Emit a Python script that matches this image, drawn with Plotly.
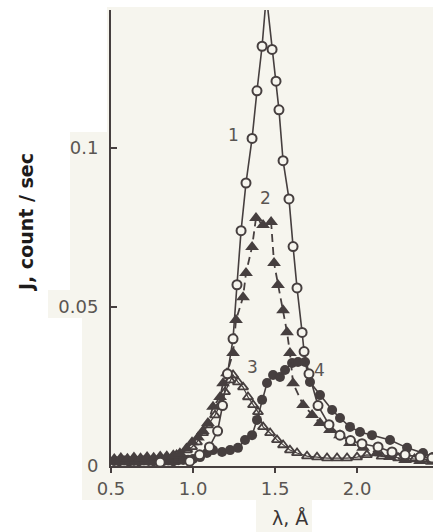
import plotly.graph_objects as go

# Curve 1: open circles, solid line
wl_1 = [0.80, 0.98, 1.04, 1.10, 1.15, 1.18, 1.21, 1.244, 1.268, 1.293, 1.323, 1.36, 1.39, 1.421,
        1.447, 1.482, 1.506, 1.524, 1.549, 1.585, 1.61, 1.634, 1.665, 1.677, 1.707, 1.762, 1.829,
        1.896, 1.96, 2.03, 2.128, 2.213, 2.293, 2.384, 2.457]
j_1 = [0.0012, 0.0015, 0.0035, 0.006, 0.011, 0.019, 0.029, 0.040, 0.057, 0.074, 0.089, 0.103, 0.118,
       0.132, 0.148, 0.131, 0.121, 0.112, 0.096, 0.084, 0.069, 0.056, 0.042, 0.036, 0.029, 0.019,
       0.013, 0.0097, 0.008, 0.007, 0.006, 0.0044, 0.0035, 0.0028, 0.0025]

# Curve 2: filled triangles, dashed line
wl_2 = [0.52, 0.56, 0.60, 0.64, 0.68, 0.72, 0.76, 0.80, 0.84, 0.88, 0.92, 0.96, 0.994, 1.03, 1.06,
        1.091, 1.122, 1.165, 1.183, 1.207, 1.244, 1.262, 1.305, 1.323, 1.36, 1.384, 1.427, 1.476,
        1.494, 1.518, 1.549, 1.573, 1.591, 1.61, 1.671, 1.726, 1.774, 1.835, 1.896, 1.957, 2.037,
        2.122, 2.201, 2.293, 2.384, 2.457]
j_2 = [0.0022, 0.0025, 0.0023, 0.0027, 0.0024, 0.0028, 0.0026, 0.0030, 0.0031, 0.0034, 0.0040,
       0.0055, 0.0075, 0.009, 0.011, 0.0135, 0.0186, 0.0217, 0.026, 0.0292, 0.0355, 0.0459, 0.0531,
       0.0607, 0.0689, 0.078, 0.0758, 0.0767, 0.0638, 0.0569, 0.049, 0.0421, 0.0355, 0.026, 0.0192,
       0.016, 0.0135, 0.0113, 0.0097, 0.0072, 0.0057, 0.0041, 0.0028, 0.0019, 0.0016, 0.0013]

# Curve 3: open triangles
wl_3 = [0.90, 0.963, 0.994, 1.024, 1.061, 1.091, 1.134, 1.165, 1.195, 1.226, 1.244, 1.274, 1.305,
        1.335, 1.366, 1.396, 1.427, 1.47, 1.512, 1.549, 1.591, 1.634, 1.695, 1.756, 1.817, 1.878,
        1.939, 2.0, 2.06, 2.15, 2.25, 2.35, 2.45]
j_3 = [0.0035, 0.005, 0.006, 0.0075, 0.0104, 0.0129, 0.016, 0.0192, 0.0233, 0.027, 0.0286, 0.0264,
       0.0248, 0.0217, 0.0192, 0.017, 0.0123, 0.0104, 0.0082, 0.0066, 0.005, 0.0041, 0.0031, 0.0028,
       0.0025, 0.0025, 0.0025, 0.0028, 0.0035, 0.003, 0.0025, 0.0022, 0.002]

# Curve 4: filled circles, solid line
wl_4 = [0.52, 0.55, 0.58, 0.61, 0.64, 0.67, 0.70, 0.73, 0.76, 0.79, 0.82, 0.85, 0.88, 0.91, 0.94,
        0.97, 1.0, 1.043, 1.085, 1.122, 1.177, 1.226, 1.274, 1.317, 1.36, 1.39, 1.421, 1.451, 1.488,
        1.53, 1.561, 1.604, 1.64, 1.683, 1.713, 1.774, 1.848, 1.896, 1.957, 2.018, 2.091, 2.201,
        2.305, 2.402, 2.463]
j_4 = [0.0016, 0.0015, 0.0017, 0.0014, 0.0016, 0.0015, 0.0017, 0.0016, 0.0015, 0.0018, 0.0016,
       0.0017, 0.0015, 0.0018, 0.0019, 0.0020, 0.0022, 0.0028, 0.0041, 0.005, 0.0044, 0.005, 0.0057,
       0.0082, 0.0097, 0.0145, 0.0208, 0.0261, 0.0286, 0.028, 0.0302, 0.0324, 0.0327, 0.0327,
       0.0264, 0.0223, 0.0176, 0.0151, 0.0123, 0.0107, 0.0097, 0.0082, 0.0057, 0.0041, 0.0028]

x_ticks = [0.5, 1.0, 1.5, 2.0]
x_tick_text = ["0.5", "1.0", "1.5", "2.0"]
y_ticks = [0, 0.05, 0.1]
y_tick_text = ["0", "0.05", "0.1"]

curve_labels = ["1", "2", "3", "4"]
label_x = [1.244, 1.439, 1.36, 1.774]
label_y = [0.104, 0.0843, 0.0311, 0.0302]

INK = "#463f3f"
PAPER = "#f6f5ee"
TEXT = "#5a5552"

fig = go.Figure()

fig.add_trace(go.Scatter(
    x=wl_4, y=j_4, mode="lines+markers",
    line=dict(color=INK, width=1.6),
    marker=dict(symbol="circle", size=10, color=INK, line=dict(width=0)),
))
fig.add_trace(go.Scatter(
    x=wl_3, y=j_3, mode="lines+markers",
    line=dict(color=INK, width=1.2),
    marker=dict(symbol="triangle-up-open", size=9, color=INK, line=dict(width=1.8)),
))
fig.add_trace(go.Scatter(
    x=wl_2, y=j_2, mode="lines+markers",
    line=dict(color=INK, width=1.8, dash="8px,5px"),
    marker=dict(symbol="triangle-up", size=12, color=INK, line=dict(width=0)),
))
fig.add_trace(go.Scatter(
    x=wl_1, y=j_1, mode="lines+markers",
    line=dict(color=INK, width=1.6),
    marker=dict(symbol="circle", size=9, color=PAPER, line=dict(color=INK, width=2)),
))

for t, lx, ly in zip(curve_labels, label_x, label_y):
    fig.add_annotation(x=lx, y=ly, text=t, showarrow=False,
                       font=dict(family="DejaVu Sans", size=17, color=TEXT))

# axis titles
fig.add_annotation(xref="paper", yref="paper", x=0.556, y=-0.114, text="λ, Å",
                   xanchor="center", yanchor="middle", showarrow=False,
                   font=dict(family="DejaVu Sans", size=19, color="#3a3535"))
fig.add_annotation(xref="paper", yref="paper", x=-0.264, y=0.535, text="<b>J, count / sec</b>",
                   xanchor="center", yanchor="middle", textangle=-90, showarrow=False,
                   font=dict(family="DejaVu Sans", size=19, color="#1e1b1b"))

# page tint behind the chart
W, H = 322.0, 456.0
def px(xp):
    return (xp - 111) / W
def py(yp):
    return (466 - yp) / H
for x0, y0, x1, y1 in [(107, 7, 433, 500), (70, 132, 107, 290), (48, 290, 107, 318),
                       (82, 318, 107, 500), (256, 500, 312, 532)]:
    fig.add_shape(type="rect", xref="paper", yref="paper", layer="below",
                  x0=px(x0), x1=px(x1), y0=py(y1), y1=py(y0),
                  fillcolor=PAPER, line=dict(width=0))

fig.update_layout(
    width=433, height=532,
    margin=dict(l=111, r=0, t=10, b=66),
    paper_bgcolor="white",
    plot_bgcolor="rgba(0,0,0,0)",
    showlegend=False,
    xaxis=dict(range=[0.5, 2.463], tickvals=x_ticks, ticktext=x_tick_text,
               showgrid=False, zeroline=False, showline=True, linecolor=INK, linewidth=2,
               ticks="outside", ticklen=5, tickwidth=1.5, tickcolor=INK,
               tickfont=dict(family="DejaVu Sans", size=18, color=TEXT)),
    yaxis=dict(range=[0, 0.1434], tickvals=y_ticks, ticktext=y_tick_text,
               showgrid=False, zeroline=False, showline=True, linecolor=INK, linewidth=2,
               ticks="inside", ticklen=6, tickwidth=1.5, tickcolor=INK, ticklabelstandoff=7,
               tickfont=dict(family="DejaVu Sans", size=18, color=TEXT)),
)

fig.write_html("out.html")
